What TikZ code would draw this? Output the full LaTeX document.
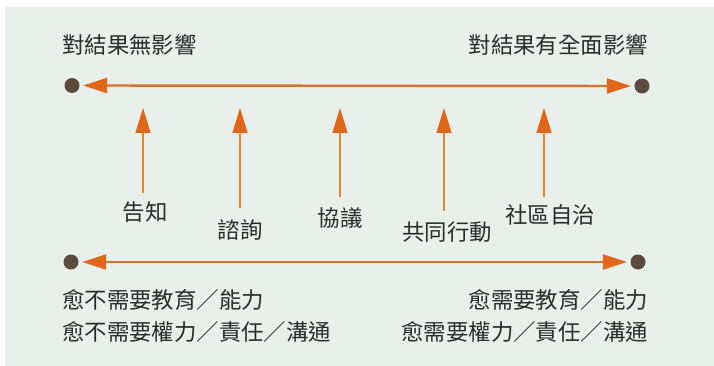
\documentclass[tikz,border=0pt]{standalone}
\usepackage{fontspec}
\setmainfont{Noto Sans CJK TC}
\usetikzlibrary{arrows.meta}
\definecolor{bgc}{HTML}{E9EFEB}
\definecolor{dotc}{HTML}{5B4B3D}
\definecolor{arrc}{HTML}{E0661A}
\definecolor{linec}{HTML}{D6732A}
\definecolor{shaftc}{HTML}{D98A2E}
\definecolor{txtc}{HTML}{2B2B2B}
\begin{document}
\begin{tikzpicture}[x=1pt,y=-1pt,
  enddot/.style={circle,fill=dotc,inner sep=0pt,minimum size=15pt},
  lbl/.style={inner sep=0pt,text=txtc,font=\fontsize{22.4}{26}\selectfont},
  hline/.style={draw=linec,line width=2.4pt,
     arrows={Triangle[length=24pt,width=15pt,color=arrc]-Triangle[length=24pt,width=15pt,color=arrc]},
     shorten <=3.5pt,shorten >=3.5pt},
  vline/.style={draw=shaftc,line width=1.4pt,
     arrows={-Triangle[length=25pt,width=15pt,color=arrc]}}]
\useasboundingbox (0,0) rectangle (714,366);
\fill[white] (0,0) rectangle (714,366);
\fill[bgc] (5,7) rectangle (714,366);
% top row
\node[lbl,anchor=west] (tl) at (62,45) {對結果無影響};
\node[lbl,anchor=east] (tr) at (648,45) {對結果有全面影響};
\node[enddot] (d1) at (72,85.5) {};
\node[enddot] (d2) at (642,86) {};
\draw[hline] (d2) -- (d1);
% vertical arrows
\coordinate (t1) at (143,108);
\coordinate (t2) at (240,108);
\coordinate (t3) at (340,108);
\coordinate (t4) at (444,108);
\coordinate (t5) at (544,108);
\coordinate (b1) at (143,193);
\coordinate (b2) at (240,208);
\coordinate (b3) at (340,197);
\coordinate (b4) at (444,211);
\coordinate (b5) at (544,197);
\draw[vline] (b1) -- (t1);
\draw[vline] (b2) -- (t2);
\draw[vline] (b3) -- (t3);
\draw[vline] (b4) -- (t4);
\draw[vline] (b5) -- (t5);
\node[lbl] (l1) at (145,212) {告知};
\node[lbl] (l2) at (240,230) {諮詢};
\node[lbl] (l3) at (340,218) {協議};
\node[lbl] (l4) at (447,232) {共同行動};
\node[lbl] (l5) at (550,215) {社區自治};
% bottom row
\node[enddot] (d3) at (71,262) {};
\node[enddot] (d4) at (638,262) {};
\draw[hline] (d3) -- (d4);
\node[lbl,anchor=west] (bl1) at (62,300) {愈不需要教育／能力};
\node[lbl,anchor=west] (bl2) at (62,332) {愈不需要權力／責任／溝通};
\node[lbl,anchor=east] (br1) at (648,300) {愈需要教育／能力};
\node[lbl,anchor=east] (br2) at (648,332) {愈需要權力／責任／溝通};
\end{tikzpicture}
\end{document}
